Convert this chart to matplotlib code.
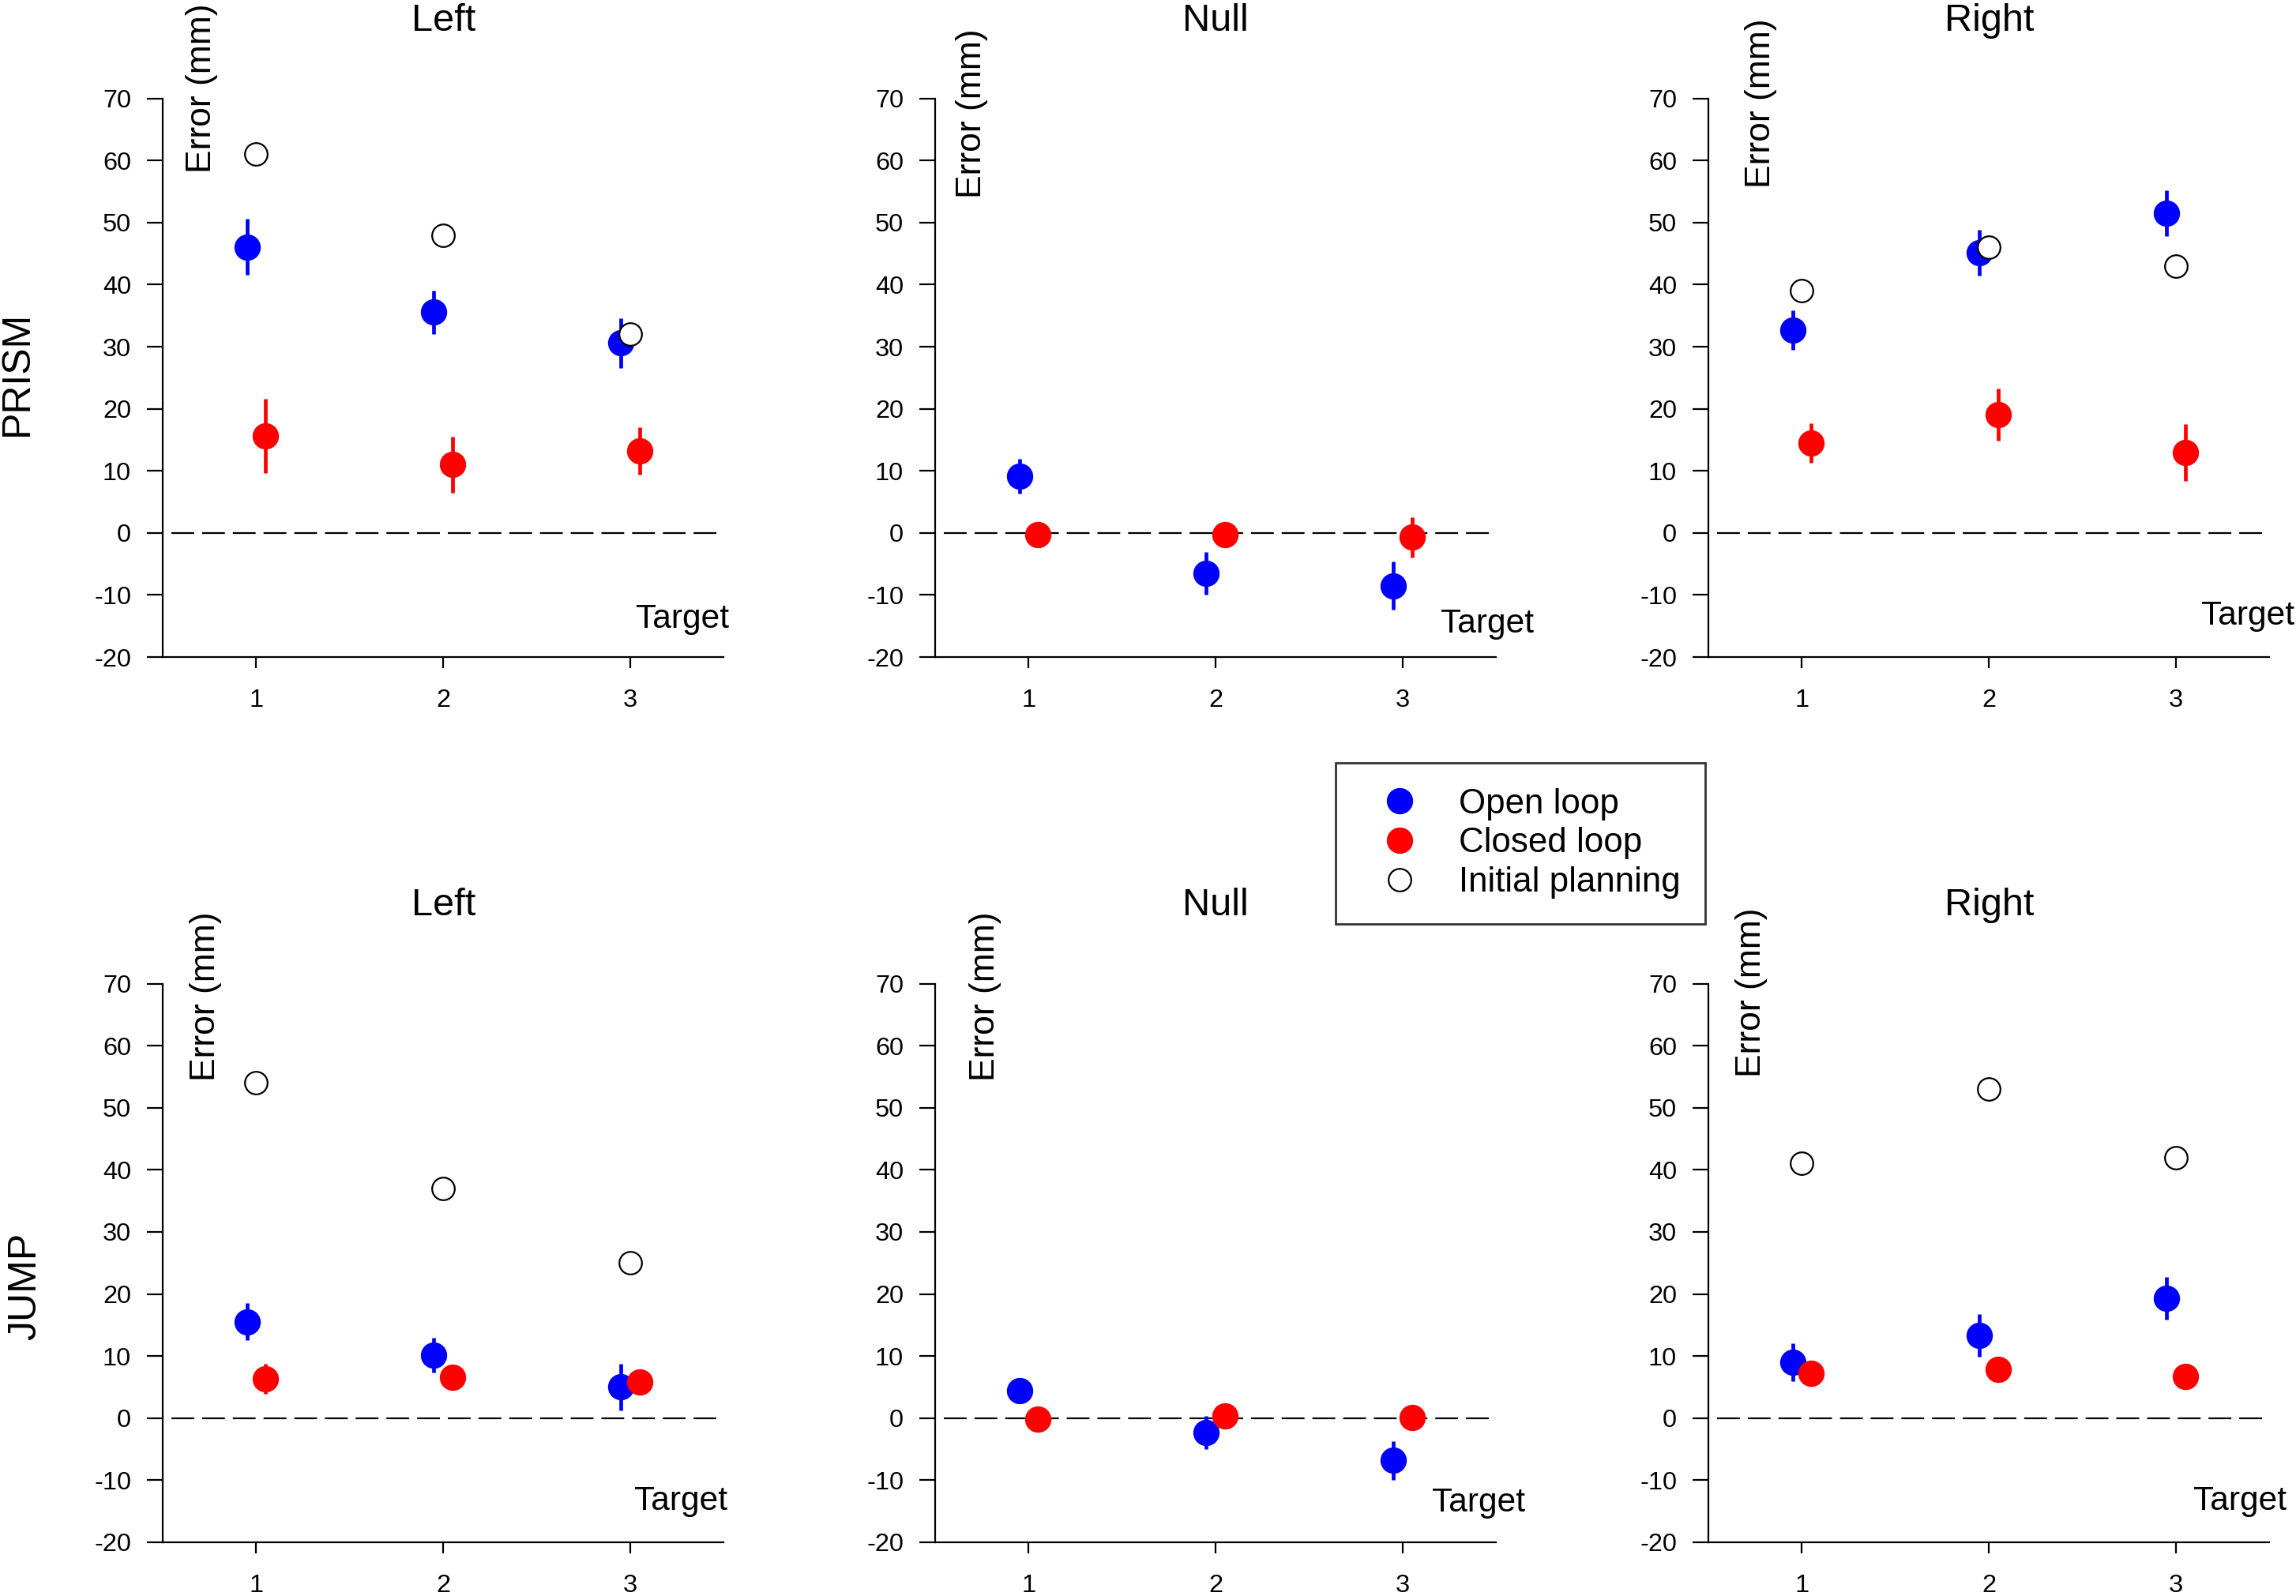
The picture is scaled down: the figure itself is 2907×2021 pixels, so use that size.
import matplotlib
matplotlib.use('Agg')
import matplotlib.pyplot as plt
from matplotlib.lines import Line2D
import numpy as np

plt.rcParams['font.family'] = ['Liberation Sans', 'DejaVu Sans']
plt.rcParams['axes.unicode_minus'] = False

targets = [1, 2, 3]
columns = ['Left', 'Null', 'Right']
rows = ['PRISM', 'JUMP']

# значения по панелям: [Left, Null, Right], внутри - мишени 1..3
prism_open = [[46.1, 35.6, 30.6], [9.1, -6.5, -8.5], [32.7, 45.2, 51.5]]
prism_open_err = [[4.5, 3.5, 4.0], [2.8, 3.4, 3.9], [3.2, 3.7, 3.7]]
prism_closed = [[15.6, 11.0, 13.2], [-0.3, -0.3, -0.7], [14.5, 19.1, 13.0]]
prism_closed_err = [[6.0, 4.5, 3.8], [1.8, 1.0, 3.2], [3.2, 4.2, 4.6]]
prism_planning = [[61, 48, 32], None, [39, 46, 43]]

jump_open = [[15.5, 10.1, 5.0], [4.4, -2.3, -6.8], [9.0, 13.3, 19.3]]
jump_open_err = [[3.0, 2.8, 3.8], [1.6, 2.7, 3.1], [3.0, 3.4, 3.4]]
jump_closed = [[6.3, 6.6, 5.8], [-0.2, 0.4, 0.15], [7.2, 7.9, 6.7]]
jump_closed_err = [[2.4, 1.8, 1.0], [1.0, 1.0, 1.0], [1.0, 1.5, 1.0]]
jump_planning = [[54, 37, 25], None, [41, 53, 42]]

y_ticks = [-20, -10, 0, 10, 20, 30, 40, 50, 60, 70]

data = {
    'PRISM': (prism_open, prism_open_err, prism_closed, prism_closed_err, prism_planning),
    'JUMP': (jump_open, jump_open_err, jump_closed, jump_closed_err, jump_planning),
}

# раскладка панелей
col_left = [0.0709, 0.4073, 0.7441]
row_bottom = [0.5883, 0.0337]
ax_w, ax_h = 0.2443, 0.3500
err_label_pos = [[(0.069, 0.866), (0.065, 0.822), (0.094, 0.840)],
                 [(0.077, 0.826), (0.090, 0.826), (0.077, 0.832)]]
target_pos = [[(1.010, 0.052), (1.068, 0.044), (1.045, 0.058)],
              [(1.007, 0.058), (1.052, 0.055), (1.031, 0.058)]]

BLUE = '#0000ff'
RED = '#ff0000'
offset = 0.05

fig = plt.figure(figsize=(14.535, 10.105), dpi=200)

for r, row in enumerate(rows):
    op, op_err, cl, cl_err, plan = data[row]
    for c, col in enumerate(columns):
        ax = fig.add_axes([col_left[c], row_bottom[r], ax_w, ax_h])
        x = np.array(targets, dtype=float)
        ax.axhline(0, xmin=0.015, xmax=0.995, color='black', lw=0.8,
                   linestyle=(0, (13, 4.5)), zorder=1)
        ax.errorbar(x - offset, op[c], yerr=op_err[c], fmt='o', color=BLUE,
                    ms=11, mec=BLUE, elinewidth=1.7, capsize=0, zorder=3)
        ax.errorbar(x + offset, cl[c], yerr=cl_err[c], fmt='o', color=RED,
                    ms=11, mec=RED, elinewidth=1.7, capsize=0, zorder=4)
        if plan[c] is not None:
            ax.plot(x, plan[c], 'o', mfc='white', mec='black', ms=10.3,
                    mew=0.8, zorder=5)

        ax.set_xlim(0.5, 3.5)
        ax.set_ylim(-20, 70)
        ax.set_xticks(targets)
        ax.set_yticks(y_ticks)
        for s in ['top', 'right']:
            ax.spines[s].set_visible(False)
        for s in ['left', 'bottom']:
            ax.spines[s].set_linewidth(0.8)
        ax.tick_params(axis='y', direction='out', length=7.2, width=0.8,
                       labelsize=11.7, pad=7.2)
        ax.tick_params(axis='x', direction='out', length=5, width=0.8,
                       labelsize=11.7, pad=9.5)
        ax.set_title(col, fontsize=17.5, pad=31)

        ex, ey = err_label_pos[r][c]
        ax.text(ex, ey, 'Error (mm)', transform=ax.transAxes, rotation=90,
                ha='center', va='bottom', fontsize=16)
        tx, ty = target_pos[r][c]
        ax.text(tx, ty, 'Target', transform=ax.transAxes, ha='right',
                va='baseline', fontsize=15.3, clip_on=False)

fig.text(0.0076, 0.766, 'PRISM', rotation=90, ha='center', va='center', fontsize=18)
fig.text(0.0110, 0.194, 'JUMP', rotation=90, ha='center', va='center', fontsize=18)

# легенда
handles = [
    Line2D([], [], marker='o', linestyle='none', color=BLUE, mec=BLUE, ms=11),
    Line2D([], [], marker='o', linestyle='none', color=RED, mec=RED, ms=11),
    Line2D([], [], marker='o', linestyle='none', mfc='white', mec='black', ms=10.3, mew=0.8),
]
leg = fig.legend(handles, ['Open loop', 'Closed loop', 'Initial planning'],
                 loc='upper left', bbox_to_anchor=(0.5817, 0.5220),
                 borderaxespad=0, fontsize=15.8, frameon=True, fancybox=False,
                 borderpad=0.72, handlelength=2.24, handletextpad=0.59,
                 labelspacing=0.2, numpoints=1)
leg.get_frame().set_edgecolor('black')
leg.get_frame().set_linewidth(1.0)

fig.savefig('out.png', dpi=200)
plt.close()
